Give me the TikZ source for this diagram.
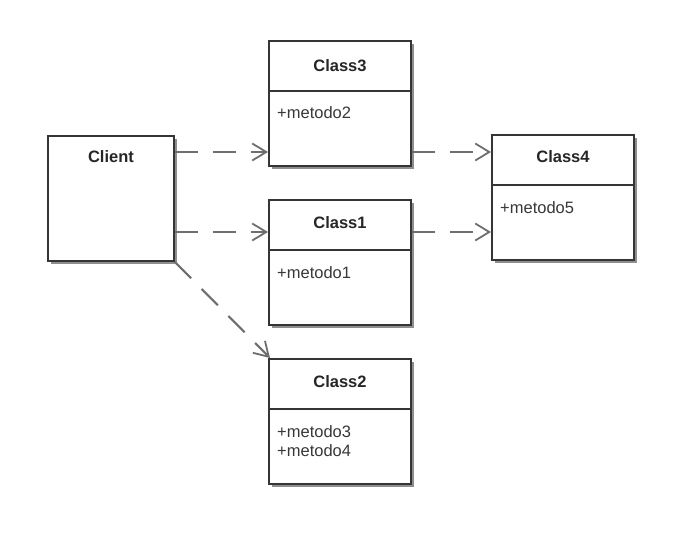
\documentclass[tikz,border=0pt]{standalone}
\usepackage{fontspec}
\setmainfont{Liberation Sans}
\usetikzlibrary{arrows.meta,shadows,calc}
\definecolor{boxline}{HTML}{353535}
\definecolor{arrline}{HTML}{6E6E6E}
\definecolor{shadowc}{HTML}{8E8E8E}
\tikzset{
  cls/.style={draw=boxline, line width=1.9pt, fill=white, anchor=north west,
    minimum width=142pt, minimum height=125pt, inner sep=0pt,
    drop shadow={shadow xshift=3.5pt, shadow yshift=-3.5pt, fill=shadowc, opacity=1}},
  clientbox/.style={cls, minimum width=126pt, minimum height=125pt},
  ttl/.style={font=\fontsize{16.5}{19}\selectfont\bfseries, text=black!85, inner sep=0pt},
  mth/.style={font=\fontsize{16.5}{19}\selectfont, text=black!78, inner sep=0pt, anchor=west, align=left},
  dep/.style={draw=arrline, line width=2.1pt, dash pattern=on 23pt off 15pt,
    -{Straight Barb[length=14pt,width=17pt,line width=1.8pt]}},
  divider/.style={draw=boxline, line width=1.6pt}
}
\begin{document}
\begin{tikzpicture}[x=1pt,y=1pt]
\useasboundingbox (0,0) rectangle (690,-538);
% boxes
\node[clientbox] (client) at (47,-135) {};
\node[cls] (c3) at (268,-40) {};
\node[cls] (c1) at (268,-199) {};
\node[cls] (c2) at (268,-358) {};
\node[cls] (c4) at (491,-134) {};
% dividers
\foreach \n in {c3,c1,c2,c4}{
  \draw[divider] ($(\n.north west)+(0,-51)$) -- ($(\n.north east)+(0,-51)$);
}
% titles
\node[ttl] (tclient) at ($(client.north)+(0,-22)$) {Client};
\node[ttl] (t3) at ($(c3.north)+(0,-26)$) {Class3};
\node[ttl] (t1) at ($(c1.north)+(0,-24)$) {Class1};
\node[ttl] (t2) at ($(c2.north)+(0,-24)$) {Class2};
\node[ttl] (t4) at ($(c4.north)+(0,-23)$) {Class4};
% methods
\node[mth] (m2) at ($(c3.north west)+(9,-73)$) {+metodo2};
\node[mth] (m1) at ($(c1.north west)+(9,-74)$) {+metodo1};
\node[mth] (m3) at ($(c2.north west)+(9,-74)$) {+metodo3};
\node[mth] (m4) at ($(c2.north west)+(9,-93)$) {+metodo4};
\node[mth] (m5) at ($(c4.north west)+(9,-74)$) {+metodo5};
% dependencies
\draw[dep] (client.east |- 0,-152) -- (c3.west |- 0,-152);
\draw[dep] (client.east |- 0,-232) -- (c1.west |- 0,-232);
\draw[dep] (c3.east |- 0,-152) -- (c4.west |- 0,-152);
\draw[dep] (c1.east |- 0,-232) -- (c4.west |- 0,-232);
\draw[dep] (client.south east) -- ($(c2.north west)+(2,0)$);
\end{tikzpicture}
\end{document}
